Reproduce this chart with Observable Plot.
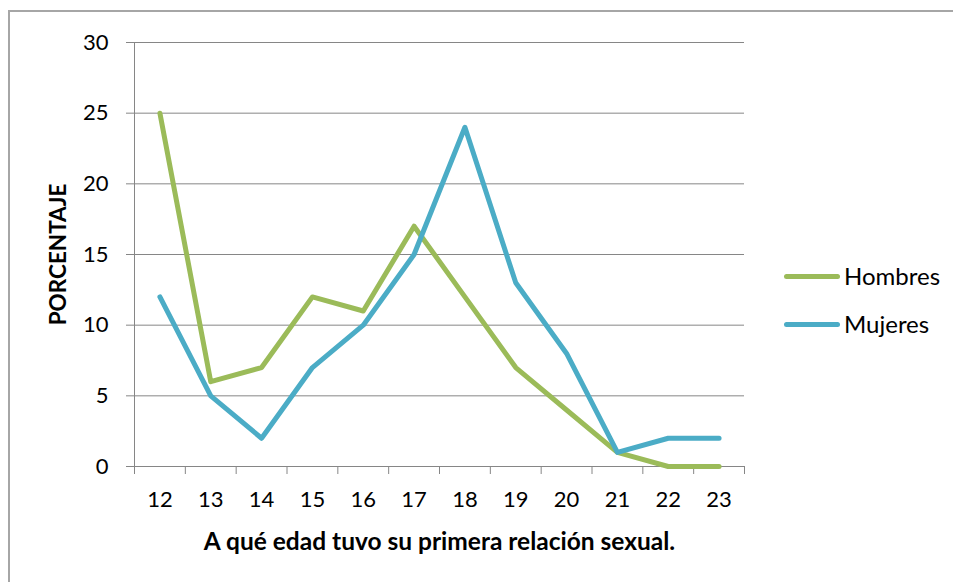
<!DOCTYPE html>
<html><head><meta charset="utf-8">
<script src="https://cdn.jsdelivr.net/npm/d3@7"></script>
<script src="https://cdn.jsdelivr.net/npm/@observablehq/plot@0.6"></script>
<style>
html,body{margin:0;padding:0;background:#fff;}
#wrap{position:relative;width:953px;height:582px;overflow:hidden;font-family:Lato,sans-serif;}
#wrap svg{position:absolute;left:0;top:0;}
#frame{position:absolute;left:8px;top:10px;width:1000px;height:700px;border:2px solid #a6a6a6;box-sizing:border-box;pointer-events:none;}
.leg{position:absolute;left:784px;height:30px;display:flex;align-items:center;font-size:24px;color:#000;line-height:30px;}
.leg .sw{width:56px;height:5px;border-radius:3px;margin-right:4px;}
</style></head><body><div id="wrap"></div>
<script>
const ages = [12, 13, 14, 15, 16, 17, 18, 19, 20, 21, 22, 23];
const hombres = [25, 6, 7, 12, 11, 17, 12, 7, 4, 1, 0, 0];
const mujeres = [12, 5, 2, 7, 10, 15, 24, 13, 8, 1, 2, 2];
const yTicks = [0, 5, 10, 15, 20, 25, 30];
const seriesNames = ["Hombres", "Mujeres"];
const seriesColors = ["#9BBB59", "#4BACC6"];
const xTitle = "A qué edad tuvo su primera relación sexual.";
const yTitle = "PORCENTAJE";

const seriesValues = [hombres, mujeres];
const rows = seriesNames.flatMap((s, si) => ages.map((a, i) => ({serie: s, age: a, value: seriesValues[si][i]})));
const boundaries = ages.map(a => a - 0.5).concat([ages[ages.length - 1] + 0.5]);
const grid = "#868686";

const chart = Plot.plot({
  width: 953, height: 582,
  marginLeft: 134, marginRight: 209, marginTop: 42, marginBottom: 116,
  style: {fontFamily: "Lato, sans-serif", fontSize: "22px", color: "#000", background: "transparent"},
  x: {type: "linear", domain: [boundaries[0], boundaries[boundaries.length - 1]]},
  y: {domain: [0, 30]},
  color: {domain: seriesNames, range: seriesColors},
  marks: [
    Plot.gridY(yTicks, {stroke: grid, strokeOpacity: 1}),
    Plot.axisY(yTicks, {tickSize: 8, tickPadding: 18, stroke: grid, label: null, fontSize: 22}),
    Plot.ruleX([boundaries[0]], {stroke: grid}),
    Plot.ruleY([0], {stroke: grid}),
    Plot.axisX(boundaries, {tickSize: 8, tickFormat: () => "", stroke: grid, label: null}),
    Plot.axisX(ages, {tickSize: 0, tickPadding: 25, label: null, tickFormat: d => String(d), fontSize: 22}),
    Plot.line(rows, {x: "age", y: "value", z: "serie", stroke: "serie", strokeWidth: 5, strokeLinecap: "round", strokeLinejoin: "round"}),
    Plot.text([xTitle], {text: d => d, frameAnchor: "bottom", dy: 76, lineAnchor: "middle", textAnchor: "middle", fontWeight: "bold", fontSize: 24.5}),
    Plot.text([yTitle], {text: d => d, frameAnchor: "left", dx: -76, rotate: -90, lineAnchor: "middle", textAnchor: "middle", fontWeight: "bold", fontSize: 22.5})
  ]
});
const wrap = document.getElementById("wrap");
wrap.appendChild(chart);
const legTops = [276, 324];
seriesNames.forEach((s, i) => {
  const d = document.createElement("div");
  d.className = "leg";
  d.style.top = (legTops[i] - 15) + "px";
  const sw = document.createElement("span");
  sw.className = "sw";
  sw.style.background = seriesColors[i];
  const t = document.createElement("span");
  t.textContent = s;
  d.appendChild(sw); d.appendChild(t);
  wrap.appendChild(d);
});
const f = document.createElement("div");
f.id = "frame";
wrap.appendChild(f);
</script>
</body></html>
